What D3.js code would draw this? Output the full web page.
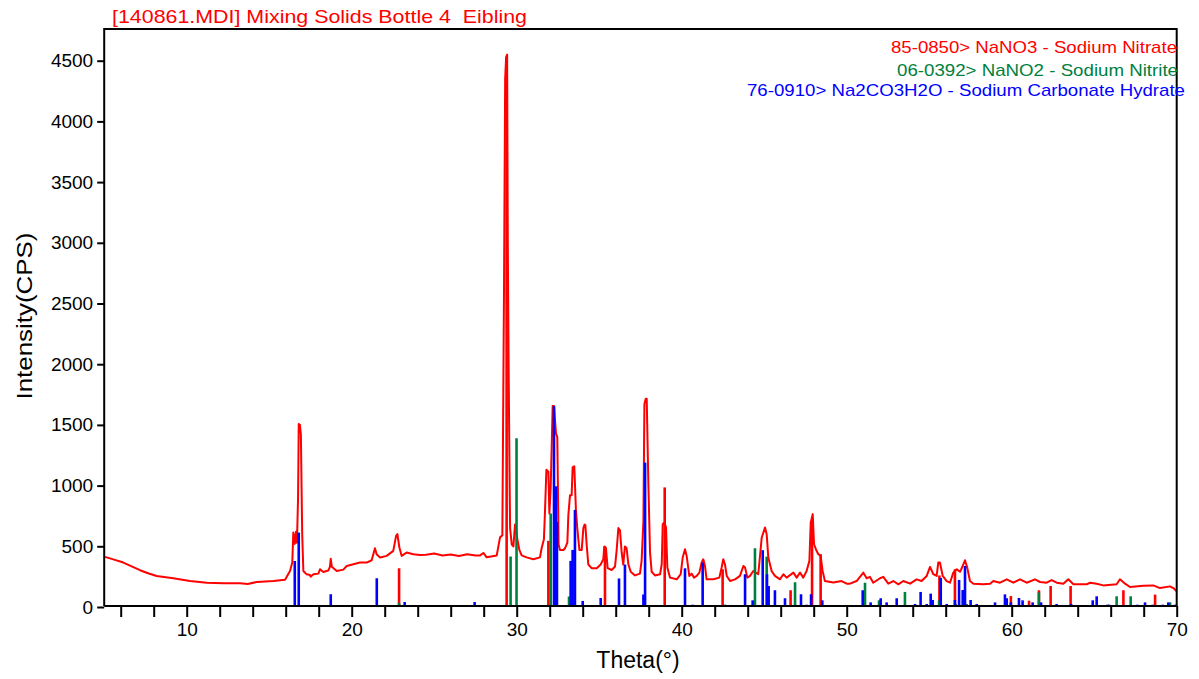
<!DOCTYPE html>
<html><head><meta charset="utf-8">
<script src="https://cdn.jsdelivr.net/npm/d3@7"></script>
<style>
body{margin:0;background:#fff;}
svg{display:block;font-family:"Liberation Sans",Arial,sans-serif;}
</style>
</head><body>
<script>
// ---- measured pattern (2-theta, CPS) ----
const thetaPts = [5.05,5.6,6.16,6.7,7.17,7.7,8.18,9.19,10.2,11.21,12.22,13.23,13.7,14.24,15.25,15.96,16.26,16.40,16.46,16.55,16.62,16.68,16.75,16.79,16.86,16.92,17.0,17.07,17.27,17.47,17.51,17.68,17.98,18.08,18.28,18.58,18.68,18.73,18.80,18.85,19.09,19.49,19.70,20.10,20.50,20.91,21.21,21.41,21.51,21.72,22.12,22.52,22.69,22.77,22.89,23.03,23.33,23.74,24.14,24.5,25.0,25.5,26.0,26.5,27.0,27.5,27.78,27.98,28.18,28.79,28.99,29.13,29.17,29.23,29.30,29.36,29.42,29.46,29.51,29.56,29.60,29.70,29.80,29.90,30.04,30.16,30.30,30.60,31.01,31.41,31.51,31.65,31.71,31.80,31.92,31.98,32.06,32.18,32.26,32.38,32.46,32.54,32.62,32.83,32.93,33.07,33.13,33.23,33.33,33.39,33.49,33.59,33.67,33.80,33.94,34.04,34.12,34.16,34.24,34.34,34.54,34.85,35.09,35.25,35.31,35.41,35.51,35.76,35.96,36.06,36.16,36.26,36.36,36.46,36.56,36.66,36.77,36.91,37.17,37.47,37.57,37.68,37.74,37.82,37.88,37.98,38.08,38.18,38.38,38.69,38.79,38.85,38.95,39.05,39.13,39.29,39.70,39.94,40.06,40.20,40.30,40.46,40.60,40.75,40.91,41.07,41.21,41.31,41.41,41.51,41.92,42.28,42.42,42.52,42.62,42.73,42.93,43.23,43.53,43.74,43.84,43.98,44.14,44.34,44.64,44.85,45.05,45.15,45.25,45.45,45.65,45.96,46.16,46.36,46.77,46.97,47.17,47.37,47.57,47.74,47.82,47.94,48.02,48.15,48.28,48.42,48.54,48.68,49.19,49.69,50.0,50.20,50.60,51.01,51.21,51.41,51.61,52.02,52.22,52.52,52.83,53.13,53.43,53.84,54.24,54.54,54.85,55.05,55.25,55.45,55.55,55.65,55.82,56.06,56.26,56.46,56.67,56.87,57.03,57.17,57.31,57.47,57.68,58.28,58.69,58.89,59.29,59.70,60.10,60.50,60.91,61.41,61.72,62.12,62.42,62.73,63.13,63.43,63.74,64.54,64.75,65.15,65.55,66.36,66.56,66.87,67.17,67.98,68.58,68.99,69.59,69.80,70.0];
const cpsPts = [413,390,366,333,303,276,256,237,215,200,195,195,190,206,215,225,297,366,613,520,620,530,900,1507,1500,1420,600,297,269,264,250,269,275,311,289,300,330,397,330,325,297,308,338,352,366,366,385,484,435,407,421,462,586,600,490,421,449,435,429,430,440,425,432,420,435,425,425,445,409,425,574,590,1400,2600,4350,4530,4550,3000,2000,1200,650,515,499,680,559,470,425,409,394,409,484,559,770,1130,1114,770,982,1655,1655,1430,1400,515,470,470,484,530,755,920,920,1150,1159,800,650,470,470,650,680,676,515,350,320,320,350,394,499,484,320,305,334,470,650,631,451,350,499,484,350,290,260,275,380,710,1670,1715,1715,1010,451,290,260,270,352,682,696,655,325,242,228,270,407,476,421,256,275,242,256,283,366,393,338,228,228,242,325,393,352,256,214,228,256,338,325,242,256,297,270,572,655,600,407,297,256,228,270,242,283,242,283,242,297,380,696,765,517,470,435,421,297,214,201,214,192,192,214,283,237,248,200,237,248,192,214,187,214,192,228,214,256,330,270,256,366,366,256,214,200,283,311,290,338,385,322,214,192,187,192,214,200,228,200,228,200,228,206,200,222,200,192,228,187,187,200,192,178,187,228,192,165,176,178,156,170,156,129];

// ---- reference sticks ----
const redTheta = [22.87,29.39,31.92,35.35,38.97,42.48,46.60,47.90,48.42,55.62,56.56,58.70,59.95,61.05,61.65,62.36,63.57,66.77,68.69];
const redI     = [319,4530,545,499,985,311,138,700,435,260,311,15,90,52,138,173,173,138,102];
const greenTheta = [22.87,29.63,29.99,32.06,33.17,44.44,45.15,46.87,51.11,51.96,53.53,55.60,56.60,57.27,61.65,66.36,67.21,69.60];
const greenI     = [35,416,1390,770,86,484,415,204,200,55,124,55,25,25,120,88,88,38];
const blueTheta = [16.55,16.79,18.73,21.52,23.21,23.70,27.45,30.10,32.26,32.38,32.44,33.27,33.39,33.53,34.00,35.09,36.20,36.56,37.68,37.78,40.20,40.66,41.27,42.62,43.84,44.30,44.91,45.17,45.27,45.65,46.26,47.23,47.57,47.84,48.52,50.60,50.97,51.45,52.06,52.42,52.79,53.03,54.14,54.48,54.85,55.09,55.21,55.70,56.06,56.56,56.81,57.03,57.17,57.51,57.88,58.65,58.99,59.59,59.70,59.95,60.44,60.66,61.27,61.78,62.42,62.72,63.10,63.35,63.60,64.54,64.91,65.15,65.80,65.90,67.61,68.08,68.55,69.15,69.49,69.90];
const blueI     = [379,613,105,237,41,8,41,15,1655,994,700,380,470,800,50,74,235,350,103,1190,319,19,366,19,270,55,468,270,173,138,72,105,19,105,55,10,138,38,72,38,10,72,25,124,25,110,58,240,25,58,223,140,338,58,25,10,38,104,72,38,74,55,38,38,11,25,8,8,25,8,55,88,19,19,19,38,19,19,38,19];

const xTickValues = [6,8,10,12,14,16,18,20,22,24,26,28,30,32,34,36,38,40,42,44,46,48,50,52,54,56,58,60,62,64,66,68,70];
const xLabelValues = [10,20,30,40,50,60,70];
const yTickValues = [0,500,1000,1500,2000,2500,3000,3500,4000,4500];
const titleText = "[140861.MDI] Mixing Solids Bottle 4  Eibling";
const legendLabels = ["85-0850> NaNO3 - Sodium Nitrate","06-0392> NaNO2 - Sodium Nitrite","76-0910> Na2CO3H2O - Sodium Carbonate Hydrate"];
const xTitle = "Theta(°)";
const yTitle = "Intensity(CPS)";

(function draw() {
  const W = 1199, H = 679;
  const pL = 104.2, pR = 1176.7, pT = 29, pB = 606;
  const cRed = "#ff0000", cGreen = "#008040", cBlue = "#0000ff";

  const svg = d3.select("body").append("svg").attr("width", W).attr("height", H);
  svg.append("rect").attr("width", W).attr("height", H).attr("fill", "#fff");

  const x = d3.scaleLinear().domain([5, 70]).range([pL, pR]);
  const y = d3.scaleLinear().domain([0, 4500]).range([607, 60.7]);

  const pts = thetaPts.map((t, i) => [t, cpsPts[i]]);
  svg.append("path")
    .attr("d", d3.line().x(d => x(d[0])).y(d => y(d[1]))(pts))
    .attr("fill", "none").attr("stroke", cRed).attr("stroke-width", 2).attr("stroke-linejoin", "round");

  function sticks(th, vals, col) {
    svg.append("g").selectAll("line").data(th.map((t, i) => [t, vals[i]])).join("line")
      .attr("x1", d => x(d[0])).attr("x2", d => x(d[0]))
      .attr("y1", pB).attr("y2", d => y(d[1]))
      .attr("stroke", col).attr("stroke-width", 2.6);
  }
  sticks(redTheta, redI, cRed);
  sticks(greenTheta, greenI, cGreen);
  sticks(blueTheta, blueI, cBlue);

  svg.append("path")
    .attr("d", `M${pL},${pB}V${pT}H${pR}V${pB}`)
    .attr("fill", "none").attr("stroke", "#000").attr("stroke-width", 2);

  const xa = svg.append("g").attr("transform", `translate(0,${pB})`)
    .call(d3.axisBottom(x).tickValues(xTickValues).tickSize(11).tickPadding(6)
      .tickFormat(d => xLabelValues.includes(d) ? d : ""));
  xa.select(".domain").attr("d", `M${pL},0H${pR}`).attr("stroke-width", 2);
  xa.selectAll(".tick line").attr("stroke-width", 2);
  xa.selectAll(".tick text").attr("font-size", 19).attr("font-family", "Liberation Sans, Arial, sans-serif").attr("fill", "#000");

  const ya = svg.append("g").attr("transform", `translate(${pL},0)`)
    .call(d3.axisLeft(y).tickValues(yTickValues).tickSize(7).tickPadding(4).tickFormat(d3.format("d")));
  ya.select(".domain").remove();
  ya.selectAll(".tick line").attr("stroke-width", 2);
  ya.selectAll(".tick text").attr("font-size", 19).attr("font-family", "Liberation Sans, Arial, sans-serif").attr("fill", "#000");

  svg.append("text").attr("x", 112).attr("y", 23).attr("fill", cRed).attr("font-size", 19)
    .attr("textLength", 415).attr("lengthAdjust", "spacingAndGlyphs")
    .style("white-space", "pre").text(titleText);

  const legCols = [cRed, cGreen, cBlue];
  const legEnd = [1177, 1178, 1185];
  const legBase = [53, 75.5, 96];
  const legW = [286, 281, 438];
  legendLabels.forEach((t, i) => {
    svg.append("text").attr("x", legEnd[i] - legW[i]).attr("y", legBase[i]).attr("fill", legCols[i])
      .attr("font-size", 17).attr("textLength", legW[i]).attr("lengthAdjust", "spacingAndGlyphs").text(t);
  });

  svg.append("text").attr("x", 638).attr("y", 668).attr("text-anchor", "middle")
    .attr("font-size", 23).attr("fill", "#000").text(xTitle);
  svg.append("text").attr("transform", "translate(32,316) rotate(-90)").attr("text-anchor", "middle")
    .attr("font-size", 22).attr("fill", "#000").attr("textLength", 167).attr("lengthAdjust", "spacingAndGlyphs").text(yTitle);
})();
</script>
</body></html>
